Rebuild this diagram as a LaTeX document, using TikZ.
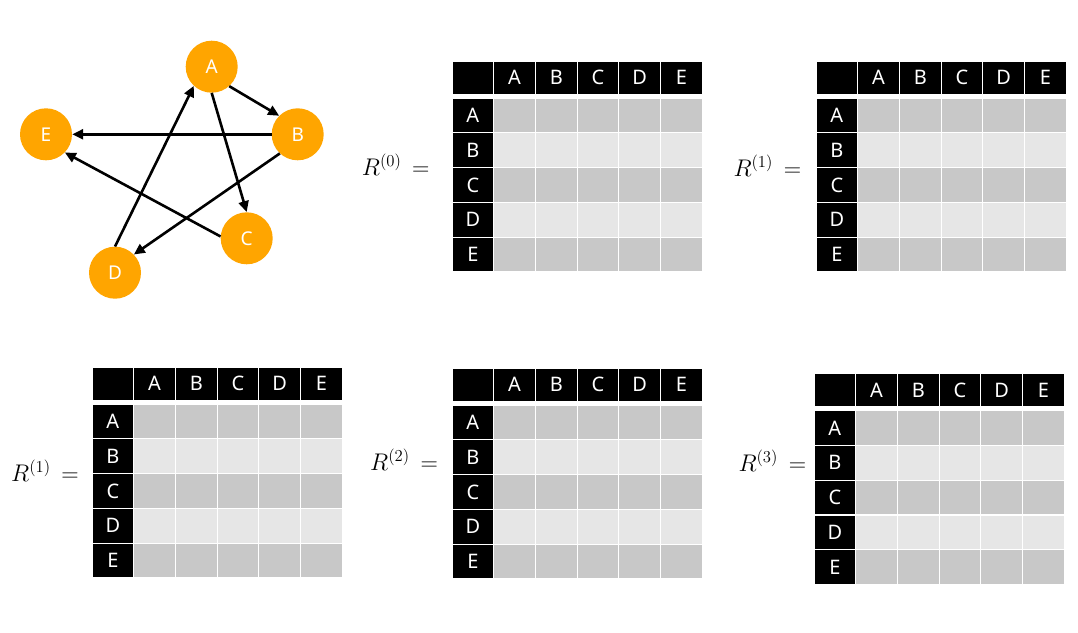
\documentclass[tikz,border=0pt]{standalone}
\usepackage{graphicx}
\usepackage{fontspec}
\newfontfamily\cellfont{Noto Sans}
\usetikzlibrary{arrows.meta}
\definecolor{vorange}{HTML}{FFA500}
\definecolor{rowdark}{HTML}{C8C8C8}
\definecolor{rowlight}{HTML}{E6E6E6}
\tikzset{
  vert/.style={circle, fill=vorange, minimum size=52pt, inner sep=0pt, text=white,
    font=\cellfont\fontsize{19}{21}\selectfont},
  edge/.style={line width=2.6pt, -{Triangle[length=11pt,width=10pt]}},
  cellbox/.style={rectangle, draw=white, line width=1.2pt, inner sep=0pt, outer sep=0pt,
    anchor=north west, minimum width=41.7pt, text=white,
    font=\cellfont\fontsize{20}{22}\selectfont},
  mlabel/.style={anchor=base west, inner sep=0pt, font=\fontsize{20.74}{25}\selectfont}
}
\newcommand\mathlab[1]{\scalebox{1.16}{$R^{(#1)}\,=$}}
\newcommand\mtable[3]{%
  \node[cellbox, fill=black, minimum height=33.5pt] (#1-h0) at (#2,#3) {};
  \foreach \i/\lab in {1/A,2/B,3/C,4/D,5/E} {
    \node[cellbox, fill=black, minimum height=33.5pt] (#1-h\i) at ({#2+\i*41.7},#3) {\lab};
  }
  \foreach \j/\lab in {1/A,2/B,3/C,4/D,5/E} {
    \node[cellbox, fill=black, minimum height=34.8pt] (#1-r\j) at (#2,{#3+37+(\j-1)*34.8}) {\lab};
    \ifodd\j\def\rowcol{rowdark}\else\def\rowcol{rowlight}\fi
    \foreach \i in {1,...,5} {
      \node[cellbox, fill=\rowcol, minimum height=34.8pt] (#1-c\j\i) at ({#2+\i*41.7},{#3+37+(\j-1)*34.8}) {};
    }
  }
}
\begin{document}
\begin{tikzpicture}[x=1pt,y=-1pt]
\useasboundingbox[fill=white] (0,0) rectangle (1078,632);
% graph
\node[vert] (A) at (211.7,66.7) {A};
\node[vert] (B) at (297.7,134.3) {B};
\node[vert] (C) at (246.7,238.3) {C};
\node[vert] (D) at (115,272.7) {D};
\node[vert] (E) at (46,134.3) {E};
\draw[edge] (A.-48) -- (B.135);
\draw[edge] (A.south) -- (C.north);
\draw[edge] (D.north) -- (A.227);
\draw[edge] (B.west) -- (E.east);
\draw[edge] (B.227) -- (D.44);
\draw[edge] (C.176) -- (E.-44);
% tables
\mtable{ta}{452}{61}
\mtable{tb}{816}{61}
\mtable{tc}{92}{367}
\mtable{td}{452}{368}
\mtable{te}{814}{373.5}
% labels
\node[mlabel] (la) at (361.7,175.7) {\mathlab{0}};
\node[mlabel] (lb) at (733.3,176.7) {\mathlab{1}};
\node[mlabel] (lc) at (11,481) {\mathlab{1}};
\node[mlabel] (ld) at (370,470) {\mathlab{2}};
\node[mlabel] (le) at (738.3,471) {\mathlab{3}};
\end{tikzpicture}
\end{document}
